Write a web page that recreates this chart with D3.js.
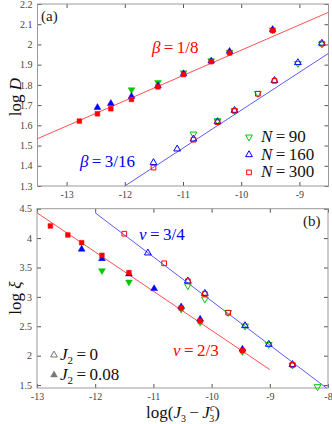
<!DOCTYPE html>
<html><head><meta charset="utf-8">
<script src="https://cdn.jsdelivr.net/npm/d3@7"></script>
<style>
body{margin:0;background:#fff;}
svg text{font-family:"Liberation Serif","DejaVu Serif",serif !important;}
</style></head>
<body><svg id="c" width="332" height="424"></svg>
<script>
// ---------- DATA ----------
// Panel (a): log D vs log(J3-J3c)
const aFilledX = [-12.78,-12.47,-12.24,-11.885,-11.43,-10.99,-10.515,-10.2,-9.46];
const aFilledN300 = [1.621,1.657,1.682,1.728,1.790,1.851,1.915,1.958,2.068];
const aFilledN160 = [null,1.688,1.708,1.743,1.795,1.855,1.918,1.966,2.074];
const aFilledN90  = [null,null,null,1.776,1.812,1.860,1.920,1.962,2.072];
const aOpenX = [-11.507,-11.10,-10.82,-10.407,-10.115,-9.713,-9.428,-9.026,-8.614];
const aOpenN300 = [1.391,null,1.529,1.616,1.672,1.756,1.820,null,2.004];
const aOpenN160 = [1.416,1.483,1.532,1.618,1.674,null,1.822,1.910,2.006];
const aOpenN90  = [null,null,1.557,1.623,1.672,1.758,null,1.906,2.002];
// fit lines [x0,y0,x1,y1] in data units
const aLineRed  = [-13.5,1.534,-8.5,2.159];
const aLineBlue = [-12.0,1.3,-8.5,1.956];
// Panel (b): log xi
const bFilledX = [-12.77,-12.47,-12.233,-11.884,-11.42,-10.987,-10.523,-10.197,-9.47];
const bFilledN300 = [4.206,4.053,3.922,3.707,3.412,null,2.811,2.590,2.085];
const bFilledN160 = [null,null,3.810,3.650,3.390,3.140,2.830,2.620,2.110];
const bFilledN90  = [null,null,null,3.446,3.253,null,2.790,2.570,2.070];
const bOpenX = [-11.5,-11.095,-10.815,-10.408,-10.116,-9.716,-9.425,-9.018,-8.611,-8.18];
const bOpenN300 = [4.075,null,3.571,3.265,3.050,2.731,null,null,1.842,null];
const bOpenN160 = [null,3.747,null,3.270,3.060,null,2.510,2.194,1.850,null];
const bOpenN90  = [null,null,null,3.190,2.964,2.735,2.505,2.190,1.840,1.473];
const bLineRed  = [-13.0,4.43,-9.0,1.763];
const bLineBlue = [-12.0,4.43,-8.02,1.445];
// ticks
const aXTicks = [-13,-12,-11,-10,-9];
const aYTicks = [1.3,1.4,1.5,1.6,1.7,1.8,1.9,2,2.1,2.2];
const bXTicks = [-13,-12,-11,-10,-9,-8];
const bYTicks = [1.5,2,2.5,3,3.5,4,4.5];
const legendN = ["90","160","300"];

// ---------- DRAW ----------
const FONT = '"Liberation Serif","DejaVu Serif",serif';
const svg = d3.select("#c").style("font-family",FONT);
const RED="#ff0000", BLUE="#0000ff", GREEN="#00c800";
const RED_L="#ff5050", BLUE_L="#5a5aff";

function panel(opt){
  const g = svg.append("g");
  const x = d3.scaleLinear().domain(opt.xd).range(opt.xr);
  const y = d3.scaleLinear().domain(opt.yd).range(opt.yr);
  const [x0,x1]=opt.xr, [y0,y1]=opt.yr;
  const ax = (a)=>{a.attr("font-family",FONT); a.select(".domain").remove(); a.selectAll("line").attr("stroke","#555");
    a.selectAll("text").attr("fill","#444").style("font-size","10px").style("font-family",FONT);};
  g.append("g").attr("transform",`translate(0,${y0})`)
    .call(d3.axisBottom(x).tickValues(opt.xt).tickSize(-4).tickPadding(5).tickFormat(d=>String(d))).call(ax);
  g.append("g").attr("transform",`translate(0,${y1})`)
    .call(d3.axisTop(x).tickValues(opt.xt).tickSize(-4).tickFormat("")).call(ax);
  g.append("g").attr("transform",`translate(${x0},0)`)
    .call(d3.axisLeft(y).tickValues(opt.yt).tickSize(-4).tickPadding(5).tickFormat(d=>String(d))).call(ax);
  g.append("g").attr("transform",`translate(${x1},0)`)
    .call(d3.axisRight(y).tickValues(opt.yt).tickSize(-4).tickFormat("")).call(ax);
  g.append("rect").attr("x",x0).attr("y",y1).attr("width",x1-x0).attr("height",y0-y1)
    .attr("fill","none").attr("stroke","#999").attr("stroke-width",1);
  [[opt.lineRed,RED_L],[opt.lineBlue,BLUE_L]].forEach(([l,c])=>{
    g.append("line").attr("x1",x(l[0])).attr("y1",y(l[1])).attr("x2",x(l[2])).attr("y2",y(l[3]))
      .attr("stroke",c).attr("stroke-width",1);
  });
  const tri = d3.symbol().type(d3.symbolTriangle).size(20);
  const sq = d3.symbol().type(d3.symbolSquare).size(22);
  function series(xs,ys,kind,color,filled){
    const pts = xs.map((v,i)=>[v,ys[i]]).filter(p=>p[1]!==null);
    g.append("g").selectAll("path").data(pts).join("path")
      .attr("d", kind==="sq"?sq():tri())
      .attr("transform",p=>`translate(${x(p[0])},${y(p[1])})${kind==="down"?" rotate(180)":""}`)
      .attr("fill", filled?color:"none")
      .attr("stroke", color).attr("stroke-width", filled?0.5:1);
  }
  series(opt.oX,opt.o90,"down",GREEN,false);
  series(opt.oX,opt.o160,"up",BLUE,false);
  series(opt.oX,opt.o300,"sq",RED,false);
  series(opt.fX,opt.f90,"down",GREEN,true);
  series(opt.fX,opt.f160,"up",BLUE,true);
  series(opt.fX,opt.f300,"sq",RED,true);
  return {g,x,y};
}

panel({xd:[-13.5,-8.5],xr:[37.5,328.5],yd:[1.3,2.2],yr:[186,4],
  xt:aXTicks,yt:aYTicks,lineRed:aLineRed,lineBlue:aLineBlue,
  fX:aFilledX,f300:aFilledN300,f160:aFilledN160,f90:aFilledN90,
  oX:aOpenX,o300:aOpenN300,o160:aOpenN160,o90:aOpenN90});
panel({xd:[-13,-8],xr:[37,328],yd:[1.45,4.5],yr:[388,208.7],
  xt:bXTicks,yt:bYTicks,lineRed:bLineRed,lineBlue:bLineBlue,
  fX:bFilledX,f300:bFilledN300,f160:bFilledN160,f90:bFilledN90,
  oX:bOpenX,o300:bOpenN300,o160:bOpenN160,o90:bOpenN90});

function mtext(x,y,parts,color,size,anchor,rot){
  const t = svg.append("text").attr("x",x).attr("y",y).attr("fill",color)
    .style("font-size",size+"px").style("font-family",FONT).attr("text-anchor",anchor||"start");
  if(rot) t.attr("transform",`rotate(${rot},${x},${y})`);
  parts.forEach(p=>{
    const s=t.append("tspan").text(p[0]);
    if(p[1]) s.style("font-style","italic");
    if(p[2]) s.attr("dy",p[2]);
    if(p[3]) s.style("font-size",p[3]+"px");
    if(p[4]) s.attr("dx",p[4]);
  });
  return t;
}
mtext(41,21,[["(a)"]],"#222",15);
mtext(303,226,[["(b)"]],"#222",15);
mtext(152,53,[["β",1],["\u2009=\u20091/8"]],RED,17);
mtext(80,167,[["β",1],["\u2009=\u20093/16"]],BLUE,17);
mtext(139,240,[["ν",1],["\u2009=\u20093/4"]],BLUE,17);
mtext(173,356,[["ν",1],["\u2009=\u20092/3"]],RED,17);
mtext(21,97,[["log "],["D",1]],"#111",17,"middle",-90);
mtext(21,298,[["log "],["ξ",1]],"#111",17,"middle",-90);
mtext(183,418,[["log("],["J",1],["3",0,4,10],["\u2009\u2212\u2009",0,-4,17],["J",1],["c",1,-7,10],["3",0,11,10,-5],[")",0,-4,17]],"#111",17,"middle");

const legSym = [[d3.symbolTriangle,GREEN,true],[d3.symbolTriangle,BLUE,false],[d3.symbolSquare,RED,false]];
legSym.forEach((s,i)=>{
  const yy = 137 + i*17.7;
  svg.append("path").attr("d",d3.symbol().type(s[0]).size(s[0]===d3.symbolSquare?22:20)())
    .attr("transform",`translate(249,${yy})${s[2]?" rotate(180)":""}`)
    .attr("fill","none").attr("stroke",s[1]).attr("stroke-width",1);
  mtext(261,yy+5,[["N",1],["\u2009=\u2009"+legendN[i]]],"#111",17);
});
const j2 = ["0","0.08"];
j2.forEach((v,i)=>{
  const yy = 355 + i*20;
  svg.append("path").attr("d",d3.symbol().type(d3.symbolTriangle).size(20)())
    .attr("transform",`translate(54,${yy})`)
    .attr("fill",i?"#777":"none").attr("stroke","#777").attr("stroke-width",i?0.5:1);
  mtext(60,yy+5,[["J",1],["2",0,4,11],["\u2009=\u2009"+v,0,-4,17]],"#111",17);
});
</script></body></html>
